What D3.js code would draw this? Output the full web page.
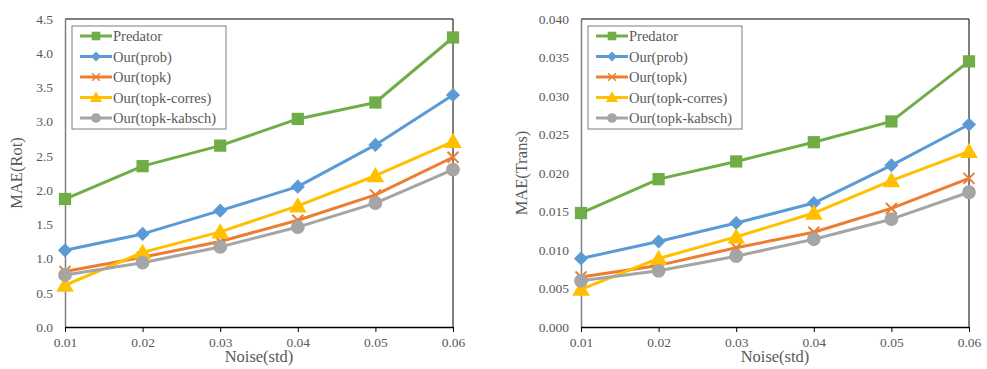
<!DOCTYPE html>
<html>
<head>
<meta charset="utf-8">
<script src="https://cdn.jsdelivr.net/npm/d3@7"></script>
<style>
  body { margin: 0; background: #fff; }
</style>
</head>
<body>
<svg id="chart" width="987" height="369"></svg>
<script>
// categories (noise std)
const noise = ["0.01", "0.02", "0.03", "0.04", "0.05", "0.06"];
const seriesNames = ["Predator", "Our(prob)", "Our(topk)", "Our(topk-corres)", "Our(topk-kabsch)"];

// MAE(Rot)
const rotPredator = [1.87, 2.35, 2.65, 3.04, 3.28, 4.23];
const rotProb     = [1.12, 1.36, 1.70, 2.05, 2.66, 3.39];
const rotTopk     = [0.81, 1.02, 1.25, 1.56, 1.93, 2.48];
const rotCorres   = [0.61, 1.09, 1.39, 1.77, 2.21, 2.71];
const rotKabsch   = [0.76, 0.94, 1.17, 1.46, 1.81, 2.30];
const rotTicks = [0, 0.5, 1, 1.5, 2, 2.5, 3, 3.5, 4, 4.5];

// MAE(Trans)
const transPredator = [0.0148, 0.0192, 0.0215, 0.0240, 0.0267, 0.0345];
const transProb     = [0.0089, 0.0111, 0.0135, 0.0161, 0.0210, 0.0263];
const transTopk     = [0.0065, 0.0080, 0.0103, 0.0123, 0.0154, 0.0193];
const transCorres   = [0.0049, 0.0089, 0.0117, 0.0148, 0.0190, 0.0228];
const transKabsch   = [0.0060, 0.0073, 0.0092, 0.0114, 0.0140, 0.0175];
const transTicks = [0, 0.005, 0.01, 0.015, 0.02, 0.025, 0.03, 0.035, 0.04];

const colors = ["#70AD47", "#5B9BD5", "#ED7D31", "#FFC000", "#A5A5A5"];
const shapes = ["square", "diamond", "cross", "triangle", "circle"];
const serif = "'Liberation Serif', 'Times New Roman', serif";

const svg = d3.select("#chart");

//draw a marker of the given shape at (x,y)
function marker(g, shape, x, y, color, s) {
  s = s || 1;
  if (shape === "cross") {
    const r = 5.5 * s;
    g.append("path")
      .attr("d", `M${x - r},${y - r}L${x + r},${y + r}M${x - r},${y + r}L${x + r},${y - r}`)
      .attr("stroke", color).attr("stroke-width", 2 * s).attr("fill", "none");
    return;
  }
  const sym = {
    square: [d3.symbolSquare, 150, 0],
    diamond: [d3.symbolSquare, 100, 45],   // square turned 45deg
    triangle: [d3.symbolTriangle, 135, 0],
    circle: [d3.symbolCircle, 150, 0]
  }[shape];
  g.append("path")
    .attr("d", d3.symbol().type(sym[0]).size(sym[1] * s * s)())
    .attr("transform", `translate(${x},${y + (shape === "triangle" ? 1.5 * s : 0)}) rotate(${sym[2]})`)
    .attr("fill", color);
}

function panel(opt) {
  const x = d3.scalePoint().domain(noise).range([opt.x0, opt.x1]);
  const y = d3.scaleLinear().domain(opt.domain).range([327, 19]);
  const g = svg.append("g");

  // plot frame
  g.append("path")
    .attr("d", `M${opt.x0},19H${opt.x1}V327`)
    .attr("fill", "none").attr("stroke", "#000").attr("stroke-width", 1);

  // y axis
  const ya = g.append("g")
    .attr("transform", `translate(${opt.x0},0)`)
    .call(d3.axisLeft(y).tickValues(opt.ticks).tickSize(0).tickPadding(12).tickFormat(d3.format(opt.fmt)));
  ya.attr("font-family", serif).attr("font-size", 13.5);
  ya.select(".domain").attr("stroke", "#7f7f7f").attr("stroke-width", 1.5);
  ya.selectAll("text").attr("fill", "#595959");

  // x axis
  const xa = g.append("g")
    .attr("transform", "translate(0,327)")
    .call(d3.axisBottom(x).tickSize(5).tickSizeOuter(0).tickPadding(5));
  xa.attr("font-family", serif).attr("font-size", 13.5);
  xa.select(".domain").attr("stroke", "#000").attr("stroke-width", 1.5);
  xa.selectAll(".tick line").attr("stroke", "#000");
  xa.selectAll("text").attr("fill", "#595959");

  // titles
  g.append("text")
    .attr("x", (opt.x0 + opt.x1) / 2).attr("y", 362)
    .attr("text-anchor", "middle")
    .attr("font-family", serif).attr("font-size", 16.5).attr("fill", "#595959")
    .text("Noise(std)");
  g.append("text")
    .attr("transform", `translate(${opt.tx},173) rotate(-90)`)
    .attr("text-anchor", "middle")
    .attr("font-family", serif).attr("font-size", 16.5).attr("fill", "#595959")
    .text(opt.title);

  // lines + markers
  const line = d3.line().x((d, i) => x(noise[i])).y(d => y(d));
  opt.series.forEach((vals, k) => {
    g.append("path")
      .attr("d", line(vals))
      .attr("fill", "none").attr("stroke", colors[k]).attr("stroke-width", 3)
      .attr("stroke-linejoin", "round");
    vals.forEach((v, i) => marker(g, shapes[k], x(noise[i]), y(v), colors[k]));
  });

  // legend
  const lg = g.append("g").attr("transform", `translate(${opt.x0 + 7},26)`);
  lg.append("rect")
    .attr("width", 154).attr("height", 103)
    .attr("fill", "#fff").attr("stroke", "#7f7f7f").attr("stroke-width", 1);
  seriesNames.forEach((name, k) => {
    const yy = 10 + k * 20.5;
    lg.append("line")
      .attr("x1", 8).attr("x2", 40).attr("y1", yy).attr("y2", yy)
      .attr("stroke", colors[k]).attr("stroke-width", 3);
    marker(lg, shapes[k], 24, yy, colors[k], 0.7);
    lg.append("text")
      .attr("x", 41).attr("y", yy + 5)
      .attr("font-family", serif).attr("font-size", 14.5).attr("fill", "#595959")
      .text(name);
  });
}

panel({
  x0: 65, x1: 453, domain: [0, 4.5], ticks: rotTicks, fmt: ".1f",
  title: "MAE(Rot)", tx: 22,
  series: [rotPredator, rotProb, rotTopk, rotCorres, rotKabsch]
});

panel({
  x0: 581, x1: 969, domain: [0, 0.04], ticks: transTicks, fmt: ".3f",
  title: "MAE(Trans)", tx: 527,
  series: [transPredator, transProb, transTopk, transCorres, transKabsch]
});
</script>
</body>
</html>
